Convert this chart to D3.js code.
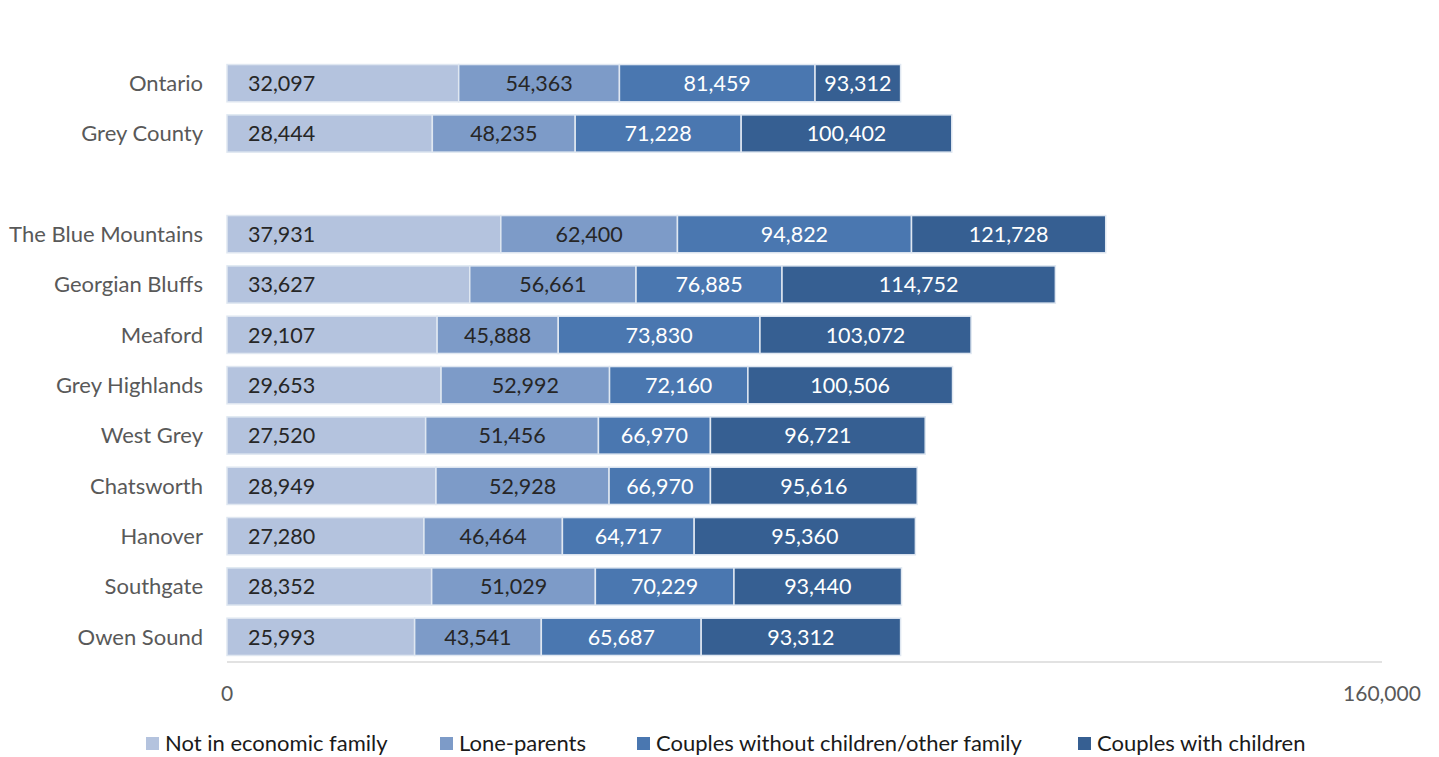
<!DOCTYPE html>
<html>
<head>
<meta charset="utf-8">
<script src="https://cdn.jsdelivr.net/npm/d3@7"></script>
<style>
  html, body { margin: 0; padding: 0; background: #fff; }
  svg { display: block; font-family: Lato, "Open Sans", sans-serif; }
</style>
</head>
<body>
<svg id="chart" width="1439" height="757"></svg>
<script>
// Median household income by family type (values are cumulative bar ends)
const places = ["Ontario", "Grey County", "", "The Blue Mountains", "Georgian Bluffs", "Meaford",
  "Grey Highlands", "West Grey", "Chatsworth", "Hanover", "Southgate", "Owen Sound"];
const seriesNames = ["Not in economic family", "Lone-parents",
  "Couples without children/other family", "Couples with children"];
const notInFamily   = [32097, 28444, null, 37931, 33627, 29107, 29653, 27520, 28949, 27280, 28352, 25993];
const loneParents   = [54363, 48235, null, 62400, 56661, 45888, 52992, 51456, 52928, 46464, 51029, 43541];
const couplesNoKids = [81459, 71228, null, 94822, 76885, 73830, 72160, 66970, 66970, 64717, 70229, 65687];
const couplesKids   = [93312, 100402, null, 121728, 114752, 103072, 100506, 96721, 95616, 95360, 93440, 93312];
const axisTicks = [0, 160000];
const colors = ["#b4c3de", "#7d9bc8", "#4a77b0", "#365f92"];
const labelColors = ["#262626", "#262626", "#ffffff", "#ffffff"];

const series = [notInFamily, loneParents, couplesNoKids, couplesKids];
const svg = d3.select("#chart");
const margin = { left: 227, right: 57, top: 58 };
const W = 1439;

const x = d3.scaleLinear().domain([0, 160000]).range([margin.left, W - margin.right]);
const y = d3.scaleBand().domain(d3.range(places.length))
  .range([margin.top, 662]).paddingInner(0.26).paddingOuter(0.13);

const fmt = d3.format(",");

// Bars: each segment runs from the previous series' value to its own
places.forEach((p, i) => {
  if (!p) return;
  const g = svg.append("g");
  series.forEach((s, k) => {
    const x0 = k === 0 ? 0 : series[k - 1][i];
    const x1 = s[i];
    g.append("rect")
      .attr("x", x(x0)).attr("y", y(i))
      .attr("width", x(x1) - x(x0)).attr("height", y.bandwidth())
      .attr("fill", colors[k])
      .attr("stroke", "#dfe7f1").attr("stroke-width", 1.5);
    const cy = y(i) + y.bandwidth() / 2;
    const t = g.append("text")
      .attr("y", cy).attr("dy", "0.36em")
      .attr("fill", labelColors[k])
      .attr("font-size", 21.5)
      .text(fmt(x1));
    if (k === 0) t.attr("x", x(0) + 21).attr("text-anchor", "start");
    else t.attr("x", (x(x0) + x(x1)) / 2).attr("text-anchor", "middle");
  });
  svg.append("text")
    .attr("x", 203).attr("y", y(i) + y.bandwidth() / 2).attr("dy", "0.36em")
    .attr("text-anchor", "end").attr("fill", "#595959").attr("font-size", 22)
    .text(p);
});

// Value axis
svg.append("line")
  .attr("x1", x(0)).attr("x2", x(160000)).attr("y1", 662).attr("y2", 662)
  .attr("stroke", "#d9d9d9").attr("stroke-width", 1.5);
svg.selectAll(".tick").data(axisTicks).enter().append("text")
  .attr("x", d => x(d)).attr("y", 693).attr("dy", "0.36em")
  .attr("text-anchor", "middle").attr("fill", "#595959").attr("font-size", 21)
  .text(d => fmt(d));

// Legend
const legendX = [146, 440, 637, 1078];
seriesNames.forEach((n, k) => {
  svg.append("rect").attr("x", legendX[k]).attr("y", 737).attr("width", 13).attr("height", 13)
    .attr("fill", colors[k]);
  svg.append("text").attr("x", legendX[k] + 19).attr("y", 743.5).attr("dy", "0.36em")
    .attr("fill", "#1a1a1a").attr("font-size", 22).text(n);
});
</script>
</body>
</html>
